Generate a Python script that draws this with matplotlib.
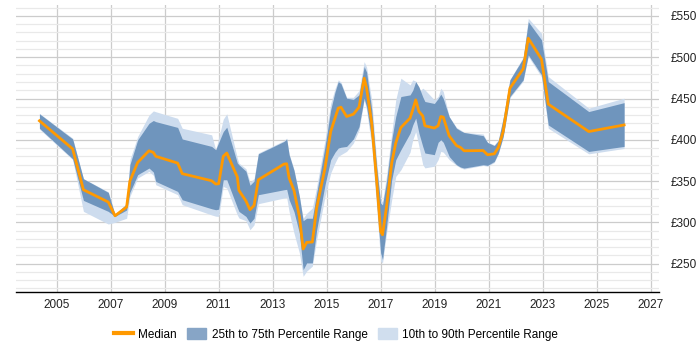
import numpy as np
import matplotlib.pyplot as plt
from matplotlib.patches import Patch
from matplotlib.lines import Line2D
from matplotlib.ticker import MultipleLocator, FuncFormatter

plt.rcParams['font.family'] = ['Liberation Sans', 'DejaVu Sans']

# 数据
years = [2004.36, 2005.59, 2005.99, 2006.91, 2007.16, 2007.59, 2007.71, 2008.0, 2008.42, 2008.58,
         2008.67, 2009.48, 2009.65, 2010.74, 2010.89, 2011.0, 2011.17, 2011.30, 2011.69, 2011.75,
         2012.01, 2012.16, 2012.31, 2012.47, 2013.42, 2013.52, 2013.61, 2013.79, 2013.99, 2014.13,
         2014.26, 2014.47, 2014.63, 2014.94, 2015.15, 2015.31, 2015.43, 2015.53, 2015.74, 2015.99,
         2016.20, 2016.39, 2016.48, 2016.67, 2016.85, 2017.00, 2017.07, 2017.22, 2017.41, 2017.56,
         2017.75, 2018.09, 2018.19, 2018.30, 2018.42, 2018.56, 2018.64, 2018.99, 2019.13, 2019.23,
         2019.32, 2019.54, 2019.81, 2019.96, 2020.09, 2020.80, 2020.96, 2021.21, 2021.36, 2021.54,
         2021.79, 2022.28, 2022.47, 2022.96, 2023.21, 2024.71, 2026.02]
median = [423, 389, 339.5, 324.6, 308, 318.6, 350, 372.6, 386.7, 384.7,
          380, 371.8, 359, 350.4, 346.4, 346.8, 380, 384, 355, 338.7,
          326, 315.3, 320.5, 351.6, 370.6, 371, 353.7, 338.7, 307.2, 267.8,
          275.8, 276.2, 317.4, 365.8, 410, 426.2, 438.3, 439.5, 428.2, 431,
          439.5, 474.6, 462.5, 420, 351.6, 289, 285, 319.3, 371.8, 396,
          414.9, 426.2, 436.3, 448.4, 434.2, 429, 417, 414.2, 417, 428.2,
          427.5, 404.8, 393, 390.7, 386.7, 387, 381.9, 383, 390.7, 410,
          462.5, 485.9, 523, 497.6, 443.2, 410, 418]
p25 = [414, 377, 326.6, 313.3, 307.2, 315, 336.3, 357.7, 365.8, 361,
       349.6, 337.5, 327.4, 316.5, 315.3, 316, 351.6, 351.6, 318, 313.3,
       307.2, 299.2, 305, 333.5, 339.5, 340, 327.4, 313, 287.2, 242.8,
       250.9, 250.9, 291, 345.6, 375.8, 385, 390, 391, 392, 401,
       416, 450.4, 440, 400, 327.4, 263, 255, 295, 351.6, 375.8,
       388, 408, 418, 426.2, 408, 392, 384, 382, 397, 400,
       397, 379.8, 369.8, 367, 365.8, 369.8, 369, 373.8, 384, 404,
       452.4, 472.6, 502.8, 478.6, 418, 385.9, 392]
p75 = [431.5, 401, 352.8, 336.3, 309, 322.6, 369.8, 400, 420, 423.4,
       422, 415, 401, 392, 388, 396.7, 410, 415.3, 372, 369.8,
       362, 345, 350, 383, 398, 401, 381.9, 363, 331.4, 302,
       305, 305, 335.5, 392, 436.3, 458, 470.5, 468, 450.4, 449,
       454.4, 488.7, 482, 436.3, 367.7, 323.4, 321, 350, 400, 428.2,
       452.4, 454.4, 460, 470.5, 464, 452, 446.4, 444, 450, 455.3,
       450, 428, 414, 411, 408.9, 405, 396.8, 393, 399, 426.2,
       472.6, 498.8, 543, 521, 470.5, 434.2, 445]
p10 = [413, 376, 313.3, 298, 300, 305, 331.4, 353.7, 361.8, 357,
       345.6, 333.5, 321.4, 309, 307.5, 307.2, 343.5, 341.5, 309, 305.3,
       302, 291, 297, 322.6, 329.5, 330, 313, 287, 263, 234.7,
       241, 247, 279, 331.4, 359.7, 372, 379.8, 382, 386, 396,
       412, 448, 436, 392, 319, 252.8, 251, 287, 327.4, 355.6,
       363.7, 385, 400, 410, 392, 370, 366, 368, 376, 386,
       385, 376, 369, 366, 364.6, 369, 368, 372.5, 383, 403,
       451, 471, 501, 476, 414, 383, 389.5]
p90 = [432, 402, 353, 337, 310, 323, 375.8, 404, 430, 435,
       434, 426, 414, 406, 388, 402, 425, 431.5, 378, 371.8,
       365, 349, 353, 384, 399, 402, 383, 364, 332, 305,
       311, 317.4, 343, 400, 444, 462, 472.6, 470, 451.5, 451.5,
       459.5, 494.7, 488, 448, 375.8, 327, 325, 357, 408, 448.4,
       474.6, 466.5, 472.6, 471, 458, 462.5, 460.5, 448.4, 452.5, 462.5,
       458.5, 428, 415, 412, 409, 407, 397, 394, 400, 427,
       473, 500, 547.2, 529, 476.6, 438.3, 450.4]

x = np.array(years)

fig = plt.figure(figsize=(7, 3.5), dpi=100)
ax = fig.add_axes([0.0224, 0.1665, 0.9197, 0.8193])

# 背景网格
ax.yaxis.set_major_locator(MultipleLocator(50))
ax.yaxis.set_minor_locator(MultipleLocator(10))
ax.grid(which='major', axis='both', color='#cccccc', lw=0.9)
ax.grid(which='minor', axis='y', color='#e9e9e9', lw=0.9)
ax.set_axisbelow(True)

# 画区间和中位数
ax.fill_between(x, p10, p90, color='#cddcee', lw=0)
ax.fill_between(x, p25, p75, color='#6f95bd', lw=0)
ax.plot(x, median, color='#ff9900', lw=2)

ax.set_xlim(2003.48, 2027.33)
ax.set_ylim(216, 563.3)
ax.set_xticks(np.arange(2005, 2028, 2))
ax.xaxis.set_major_formatter(FuncFormatter(lambda v, p: '%d' % round(v)))
ax.yaxis.set_major_formatter(FuncFormatter(lambda v, p: '£%d' % v))
ax.yaxis.tick_right()
ax.tick_params(axis='both', which='both', length=0, labelsize=8.5, colors='#222222')
ax.tick_params(axis='y', pad=8)
ax.tick_params(axis='x', pad=5)

for s in ['top', 'right', 'left']:
    ax.spines[s].set_visible(False)
ax.spines['bottom'].set_color('#000000')
ax.spines['bottom'].set_linewidth(1)

# 图例
handles = [Line2D([0], [0], color='#ff9900', lw=3),
           Patch(color='#87a5c6'),
           Patch(color='#d0deee')]
labels = ['Median', '25th to 75th Percentile Range', '10th to 90th Percentile Range']
fig.legend(handles, labels, loc='center', bbox_to_anchor=(0.48, 0.045), ncol=3, frameon=False,
           fontsize=8.5, handlelength=1.6, handleheight=1.05, columnspacing=0.9,
           handletextpad=0.45)

plt.savefig('out.png', dpi=100)
